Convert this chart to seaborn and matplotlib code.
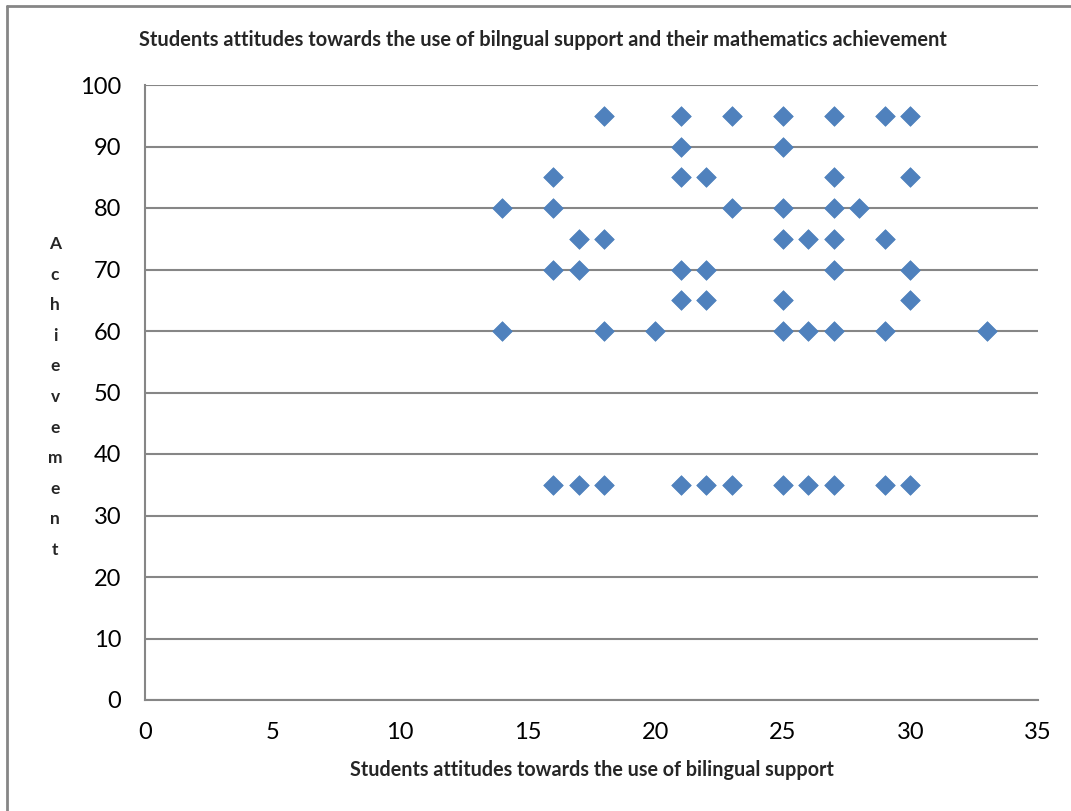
import matplotlib
matplotlib.use("Agg")
import matplotlib.pyplot as plt
from matplotlib.lines import Line2D
import pandas as pd
import seaborn as sns

# attitude scores (x) and achievement (y)
attitude = [18, 21, 23, 25, 27, 29, 30,
            21, 25,
            16, 21, 22, 27, 30,
            14, 16, 23, 25, 27, 28,
            17, 18, 25, 26, 27, 29,
            16, 17, 21, 22, 27, 30,
            21, 22, 25, 30,
            14, 18, 20, 25, 26, 27, 29, 33,
            16, 17, 18, 21, 22, 23, 25, 26, 27, 29, 30]
achievement = [95] * 7 + [90] * 2 + [85] * 5 + [80] * 6 + [75] * 6 + [70] * 6 + \
              [65] * 4 + [60] * 8 + [35] * 11

title = "Students attitudes towards the use of bilngual support and their mathematics achievement"
xlabel = "Students attitudes towards the use of bilingual support"
ylabel = "Achievement"

df = pd.DataFrame({"x": attitude, "y": achievement})

sns.set_style("white")
plt.rcParams["font.family"] = ["Lato", "DejaVu Sans"]

grey = "#868686"
fig = plt.figure(figsize=(10.71, 8.11), dpi=100)
ax = fig.add_axes([145 / 1071, 1 - 700 / 811, (1038 - 145) / 1071, (700 - 85) / 811])

ax.set_axisbelow(True)
ax.yaxis.grid(True, color=grey, linewidth=1.5)
ax.xaxis.grid(False)

sns.scatterplot(data=df, x="x", y="y", marker="D", s=100, color="#4F81BD",
                edgecolor="#4A7EBB", linewidth=0.5, ax=ax, zorder=3, clip_on=False)

ax.set_xlim(0, 35)
ax.set_ylim(0, 100)
ax.set_xticks(range(0, 36, 5))
ax.set_yticks(range(0, 101, 10))
for side in ["top", "right"]:
    ax.spines[side].set_visible(False)
for side in ["left", "bottom"]:
    ax.spines[side].set_color(grey)
    ax.spines[side].set_linewidth(1.5)
ax.tick_params(axis="both", direction="out", length=7, width=1.5, color=grey,
               labelsize=17, labelcolor="black")
ax.tick_params(axis="x", pad=9)
ax.tick_params(axis="y", pad=10)

ax.set_xlabel(xlabel, fontsize=14.2, fontweight="bold", labelpad=12)
ax.set_ylabel("")
fig.text(55 / 1071, 1 - 397 / 811, "\n".join(ylabel), fontsize=12.5, fontweight="bold",
         ha="center", va="center", linespacing=2.12)
fig.text(543 / 1071, 1 - 40 / 811, title, fontsize=14.4, fontweight="bold",
         ha="center", va="center")

# outer chart frame (only top and left edges visible)
fig.add_artist(Line2D([7 / 1071, 7 / 1071], [0, 1 - 6 / 811], transform=fig.transFigure,
                      color=grey, linewidth=2))
fig.add_artist(Line2D([7 / 1071, 1], [1 - 6 / 811, 1 - 6 / 811], transform=fig.transFigure,
                      color=grey, linewidth=2))

fig.savefig("out.png", dpi=100)
